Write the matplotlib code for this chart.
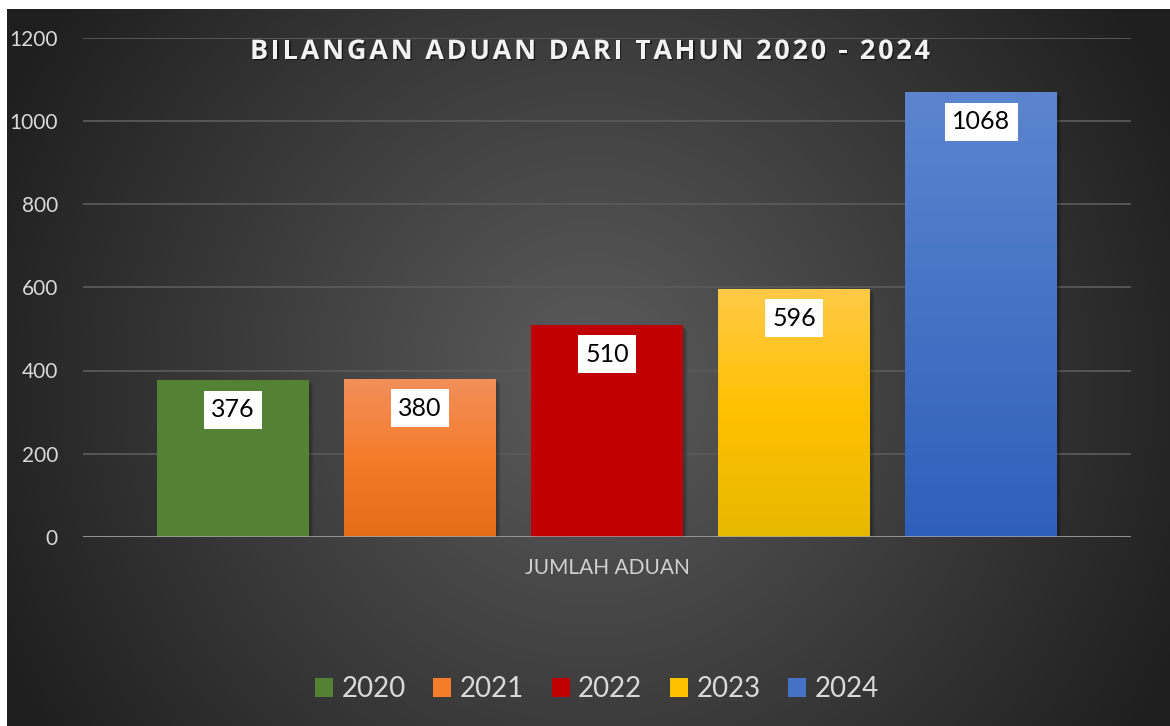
import numpy as np
import matplotlib
matplotlib.use("Agg")
import matplotlib.pyplot as plt
from matplotlib.patches import Rectangle, Patch
from matplotlib.colors import to_rgb
from matplotlib.font_manager import findfont, FontProperties
from matplotlib.ft2font import FT2Font
import matplotlib.patheffects as pe

# ---- data ----
category = "JUMLAH ADUAN"
years = ["2020", "2021", "2022", "2023", "2024"]
values = [376, 380, 510, 596, 1068]
title = "BILANGAN ADUAN DARI TAHUN 2020 - 2024"
yticks = [0, 200, 400, 600, 800, 1000, 1200]

# ---- styles ----
top_colors = ["#548235", "#F28F5C", "#C00000", "#FFCA47", "#5D85CF"]
mid_colors = ["#548235", "#F47C2A", "#C00000", "#FFC000", "#4472C4"]
bot_colors = ["#548235", "#E56C17", "#C00000", "#E6B800", "#2E5FBA"]

W, H = 1170, 726
DPI = 100
fig = plt.figure(figsize=(W / DPI, H / DPI), dpi=DPI, facecolor="white")

# background radial gradient
bg = fig.add_axes([0, 0, 1, 1], zorder=-10)
bg.set_xlim(0, W)
bg.set_ylim(H, 0)
bg.axis("off")
yy, xx = np.mgrid[9:H:1.0, 7:W:1.0]
r = np.sqrt((xx - 590) ** 2 + (yy - 380) ** 2) / 660.0
r = np.clip(r, 0, 1)
inner = np.array(to_rgb("#5c5c5c"))
outer = np.array(to_rgb("#1e1e1e"))
img = inner[None, None, :] * (1 - r[..., None]) + outer[None, None, :] * r[..., None]
bg.imshow(img, extent=(7, W, H, 9), aspect="auto", interpolation="bilinear")

# main axes
left, right, top, zero = 83, 1131, 37.5, 537
ax = fig.add_axes([left / W, (H - zero) / H, (right - left) / W, (zero - top) / H])
ax.patch.set_alpha(0)
for s in ax.spines.values():
    s.set_visible(False)

n = len(values)
spacing = 0.1785
width = 0.145
xs = (np.arange(n) - (n - 1) / 2) * spacing

ax.set_xlim(-0.5, 0.5)
ax.set_ylim(0, 1200)

ax.set_yticks(yticks)
ax.set_yticklabels([str(t) for t in yticks])
ax.tick_params(axis="y", length=0, pad=18, labelsize=15, labelcolor="#d9d9d9")
for lab in ax.get_yticklabels():
    lab.set_family("Lato")
ax.yaxis.grid(True, color="#595959", lw=1.3, zorder=0)
ax.set_axisbelow(True)
ax.axhline(0, color="#a6a6a6", lw=1.8, zorder=5)

ax.set_xticks([0])
ax.set_xticklabels([category])
ax.tick_params(axis="x", length=0, pad=15, labelsize=15, labelcolor="#d0d0d0")
for lab in ax.get_xticklabels():
    lab.set_family("Lato")

px_per_unit_x = (right - left) / 1.0
px_per_unit_y = (zero - top) / 1200.0

bars = ax.bar(xs, values, width, color=mid_colors, zorder=3, linewidth=0)

for i, (b, v) in enumerate(zip(bars, values)):
    x0 = b.get_x()
    # soft shadow
    for k, a in enumerate([0.10, 0.08, 0.06, 0.04]):
        off = (k + 2)
        sh = Rectangle((x0 + off / px_per_unit_x, 0), width, v - off / px_per_unit_y,
                       facecolor="black", alpha=a, lw=0, zorder=2.5)
        ax.add_patch(sh)
    # vertical gradient
    c_top = np.array(to_rgb(top_colors[i]))
    c_mid = np.array(to_rgb(mid_colors[i]))
    c_bot = np.array(to_rgb(bot_colors[i]))
    t = np.linspace(0, 1, 200)[:, None]
    grad = np.where(t < 0.5, c_top * (1 - t / 0.5) + c_mid * (t / 0.5),
                    c_mid * (1 - (t - 0.5) / 0.5) + c_bot * ((t - 0.5) / 0.5))
    grad = grad[:, None, :]
    im = ax.imshow(grad, extent=(x0, x0 + width, 0, v), aspect="auto",
                   zorder=3.5, interpolation="bilinear", origin="upper")
    im.set_clip_path(b)
    ax.annotate(str(v), xy=(xs[i], v), xytext=(0, -29.5 * 0.72), textcoords="offset points",
                ha="center", va="center", fontsize=18, family="Lato", color="black",
                zorder=6,
                bbox=dict(boxstyle="square,pad=0.3", fc="white", ec="none"))

ax.set_xlim(-0.5, 0.5)
ax.set_ylim(0, 1200)

# title with letter spacing
title_size = 19.5
title_prop = FontProperties(family="Open Sans", weight="bold", size=title_size)
font = FT2Font(findfont(title_prop))
font.set_size(title_size, DPI)
adv = []
for ch in title:
    g = font.load_char(ord(ch))
    adv.append(g.linearHoriAdvance / 65536.0)
target_w = 680.0
track = (target_w - sum(adv)) / (len(title) - 1)
x_cur = 590 - target_w / 2
y_title = 1 - 52 / H
for ch, a in zip(title, adv):
    if ch != " ":
        fig.text(x_cur / W, y_title, ch, ha="left", va="center", fontproperties=title_prop,
                 color="#f2f2f2",
                 path_effects=[pe.withSimplePatchShadow(offset=(1, -1), shadow_rgbFace="black", alpha=0.5)])
    x_cur += a + track

# legend
handles = [Patch(facecolor=mid_colors[i], edgecolor="none", label=years[i]) for i in range(n)]
leg = fig.legend(handles=handles, loc="center", bbox_to_anchor=(597 / W, 1 - 689 / H), ncol=n,
                 frameon=False, handlelength=0.65, handleheight=0.65,
                 handletextpad=0.3, columnspacing=1.0, prop={"family": "Lato", "size": 20})
for txt in leg.get_texts():
    txt.set_color("#d9d9d9")

fig.savefig("out.png", dpi=DPI, facecolor="white")
